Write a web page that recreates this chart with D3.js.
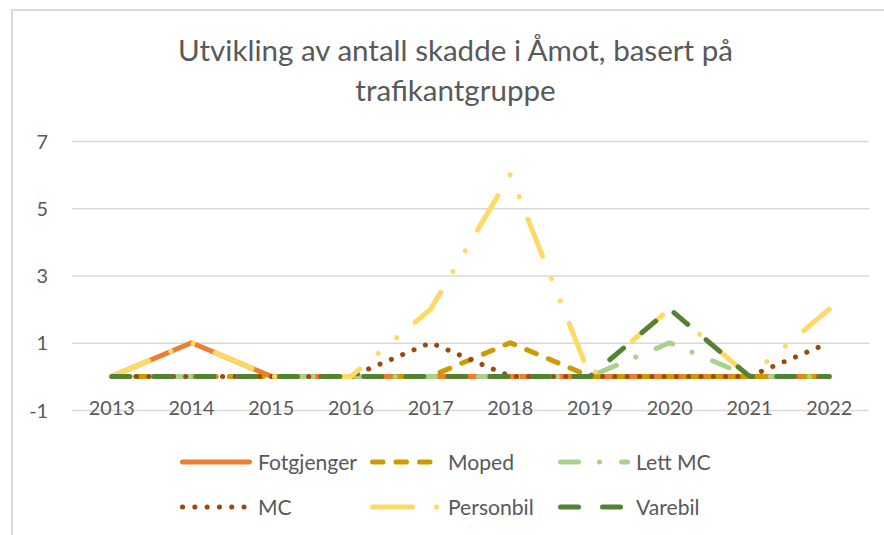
<!DOCTYPE html>
<html>
<head>
<meta charset="utf-8">
<script src="https://cdn.jsdelivr.net/npm/d3@7"></script>
<style>
  html, body { margin: 0; padding: 0; background: #fff; }
  svg { display: block; }
</style>
</head>
<body>
<script>
const years = ["2013","2014","2015","2016","2017","2018","2019","2020","2021","2022"];
const fotgjenger = [0,1,0,0,0,0,0,0,0,0];
const moped      = [0,0,0,0,0,1,0,0,0,0];
const lettMC     = [0,0,0,0,0,0,0,1,0,0];
const mc         = [0,0,0,0,1,0,0,0,0,1];
const personbil  = [0,1,0,0,2,6,0,2,0,2];
const varebil    = [0,0,0,0,0,0,0,2,0,0];
const yTicks = [-1,1,3,5,7];
const yTickLabels = ["-1","1","3","5","7"];
const titleLines = ["Utvikling av antall skadde i Åmot, basert på", "trafikantgruppe"];

const series = [
  {name:"Fotgjenger", values:fotgjenger, color:"#ED7D31", dash:null},
  {name:"Moped",      values:moped,      color:"#CC9B00", dash:"10.5 13"},
  {name:"Lett MC",    values:lettMC,     color:"#A9D18E", dash:"18 21 0.1 22"},
  {name:"MC",         values:mc,         color:"#9E480E", dash:"0.1 12.2"},
  {name:"Personbil",  values:personbil,  color:"#FFD966", dash:"40 24 0.1 24 0.1 24"},
  {name:"Varebil",    values:varebil,    color:"#548235", dash:"18 24"}
];

const W = 884, H = 535;
const FONT = "Lato, 'Open Sans', sans-serif";
const TXT = "#595959";

const svg = d3.select("body").append("svg").attr("width", W).attr("height", H);

function fitSize(text, target) {
  const t = svg.append("text").attr("font-family", FONT).attr("font-size", 100).text(text);
  const w = t.node().getComputedTextLength();
  t.remove();
  return 100 * target / w;
}

// chart border
svg.append("rect").attr("x", 12).attr("y", 10).attr("width", 1000).attr("height", 1000)
  .attr("fill", "none").attr("stroke", "#D9D9D9").attr("stroke-width", 2);

// title
const titleSize = fitSize(titleLines[0], 555);
svg.append("g").selectAll("text").data(titleLines).join("text")
  .attr("x", 455.5).attr("y", (d,i) => 61 + i*40)
  .attr("text-anchor", "middle").attr("font-family", FONT)
  .attr("font-size", titleSize).attr("fill", TXT).text(d => d);

// scales
const x = d3.scaleBand().domain(years).range([72, 869]);
const y = d3.scaleLinear().domain([-1, 7]).range([410, 141]);

// gridlines + y labels
const yAxis = d3.axisLeft(y).tickValues(yTicks).tickSize(-(869-72))
  .tickFormat((d,i) => yTickLabels[i]);
const axisSize = fitSize("2013", 46);
const gy = svg.append("g").attr("transform", "translate(72,0)").call(yAxis);
gy.select(".domain").remove();
gy.selectAll(".tick line").attr("stroke", "#D9D9D9").attr("stroke-width", 1.5);
gy.selectAll(".tick text").attr("font-family", FONT).attr("font-size", axisSize)
  .attr("fill", TXT).attr("x", -24).attr("dy", null).attr("y", 7);

// x labels
const xAxis = d3.axisBottom(x).tickSize(0).tickPadding(0);
const gx = svg.append("g").call(xAxis);
gx.select(".domain").remove();
gx.selectAll(".tick text").attr("font-family", FONT).attr("font-size", axisSize)
  .attr("fill", TXT).attr("y", 415).attr("dy", null);

// lines
const line = d3.line().x((d,i) => x(years[i]) + x.bandwidth()/2).y(d => y(d));
svg.append("g").selectAll("path").data(series).join("path")
  .attr("d", s => line(s.values))
  .attr("fill", "none").attr("stroke", s => s.color).attr("stroke-width", 5)
  .attr("stroke-linecap", "round").attr("stroke-linejoin", "round")
  .attr("stroke-dasharray", s => s.dash);

// legend
const legSize = fitSize("Fotgjenger", 99);
const colX = [180, 370, 558];
const rowY = [462, 507];
const leg = svg.append("g").selectAll("g").data(series).join("g")
  .attr("transform", (s,i) => `translate(${colX[i%3]},${rowY[Math.floor(i/3)]})`);
leg.append("line").attr("x1", 2.5).attr("x2", 69.5).attr("y1", 0).attr("y2", 0)
  .attr("stroke", s => s.color).attr("stroke-width", 5)
  .attr("stroke-linecap", "round").attr("stroke-dasharray", s => s.dash);
leg.append("text").attr("x", 78).attr("y", 7.5)
  .attr("font-family", FONT).attr("font-size", legSize).attr("fill", TXT)
  .text(s => s.name);
</script>
</body>
</html>
